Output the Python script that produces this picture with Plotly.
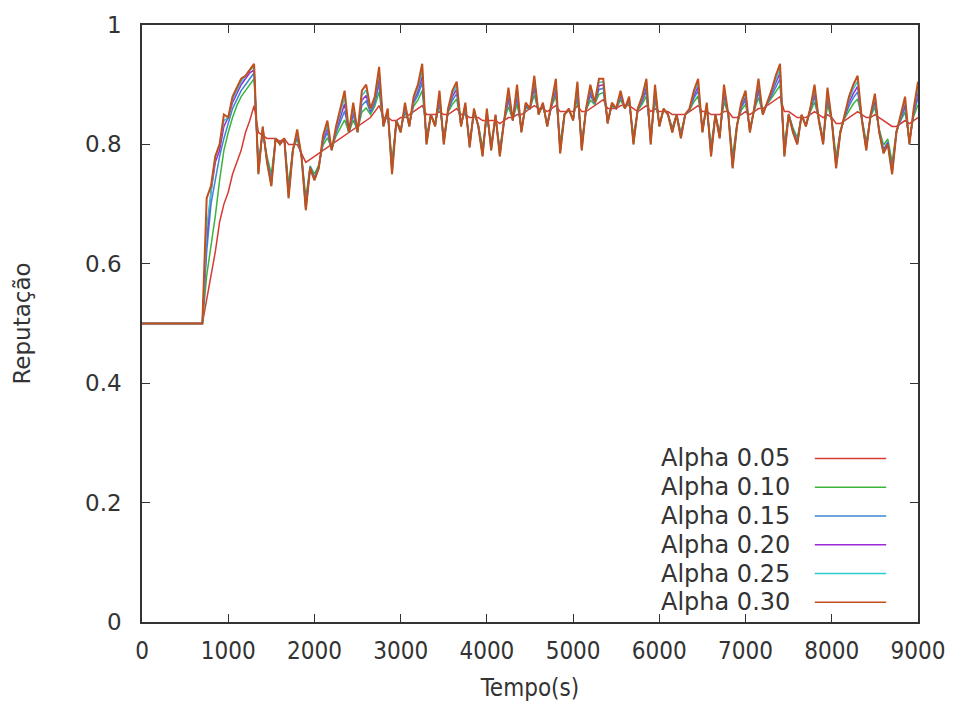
import plotly.graph_objects as go

# Simulation time (s): flat start, then one sample every 50 s
tempo = [0] + list(range(700, 9001, 50))

rep_005 = [0.50, 0.50, 0.54, 0.58, 0.62, 0.67, 0.70, 0.72, 0.75, 0.77,
           0.79, 0.82, 0.84, 0.865, 0.82, 0.815, 0.81, 0.81, 0.81, 0.805,
           0.81, 0.80, 0.80, 0.80, 0.785, 0.77, 0.775, 0.78, 0.785, 0.79,
           0.795, 0.80, 0.805, 0.81, 0.815, 0.82, 0.825, 0.83, 0.835, 0.84,
           0.845, 0.855, 0.865, 0.845, 0.845, 0.84, 0.84, 0.845, 0.845, 0.85,
           0.855, 0.86, 0.865, 0.85, 0.85, 0.85, 0.855, 0.85, 0.85, 0.855,
           0.86, 0.85, 0.85, 0.845, 0.845, 0.845, 0.84, 0.84, 0.84, 0.84,
           0.835, 0.84, 0.845, 0.845, 0.85, 0.85, 0.855, 0.86, 0.865, 0.86,
           0.86, 0.855, 0.86, 0.865, 0.855, 0.855, 0.855, 0.855, 0.865, 0.855,
           0.855, 0.86, 0.865, 0.87, 0.875, 0.86, 0.86, 0.86, 0.865, 0.865,
           0.865, 0.86, 0.855, 0.86, 0.865, 0.855, 0.86, 0.855, 0.855, 0.855,
           0.85, 0.85, 0.85, 0.85, 0.855, 0.86, 0.865, 0.855, 0.855, 0.85,
           0.85, 0.85, 0.855, 0.855, 0.845, 0.845, 0.85, 0.855, 0.85, 0.855,
           0.86, 0.86, 0.865, 0.87, 0.875, 0.88, 0.855, 0.855, 0.85, 0.845,
           0.845, 0.845, 0.85, 0.855, 0.85, 0.845, 0.85, 0.845, 0.835, 0.835,
           0.84, 0.845, 0.85, 0.855, 0.85, 0.845, 0.845, 0.85, 0.845, 0.84,
           0.835, 0.83, 0.83, 0.835, 0.84, 0.835, 0.84, 0.845]

rep_010 = [0.50, 0.50, 0.58, 0.63, 0.68, 0.74, 0.79, 0.82, 0.845, 0.865,
           0.88, 0.89, 0.90, 0.91, 0.768, 0.820, 0.78, 0.75, 0.81, 0.801,
           0.81, 0.733, 0.793, 0.809, 0.781, 0.71, 0.764, 0.75, 0.766, 0.799,
           0.811, 0.793, 0.814, 0.828, 0.841, 0.82, 0.841, 0.823, 0.854, 0.861,
           0.850, 0.864, 0.888, 0.834, 0.850, 0.773, 0.84, 0.826, 0.854, 0.835,
           0.864, 0.874, 0.890, 0.813, 0.85, 0.835, 0.867, 0.813, 0.854, 0.867,
           0.876, 0.835, 0.857, 0.808, 0.850, 0.834, 0.795, 0.847, 0.803, 0.844,
           0.794, 0.84, 0.863, 0.841, 0.868, 0.828, 0.860, 0.86, 0.883, 0.853,
           0.864, 0.836, 0.864, 0.881, 0.803, 0.851, 0.857, 0.844, 0.879, 0.806,
           0.857, 0.874, 0.867, 0.884, 0.887, 0.841, 0.864, 0.86, 0.874, 0.861,
           0.870, 0.815, 0.857, 0.867, 0.881, 0.814, 0.874, 0.836, 0.857, 0.851,
           0.828, 0.85, 0.82, 0.85, 0.857, 0.871, 0.881, 0.829, 0.860, 0.798,
           0.85, 0.82, 0.871, 0.851, 0.781, 0.834, 0.857, 0.867, 0.828, 0.857,
           0.878, 0.853, 0.867, 0.877, 0.889, 0.899, 0.799, 0.851, 0.828, 0.811,
           0.847, 0.834, 0.854, 0.871, 0.843, 0.811, 0.866, 0.841, 0.779, 0.824,
           0.844, 0.857, 0.868, 0.876, 0.843, 0.804, 0.847, 0.862, 0.826, 0.799,
           0.809, 0.77, 0.823, 0.840, 0.854, 0.809, 0.847, 0.866]

rep_015 = [0.50, 0.50, 0.62, 0.70, 0.74, 0.78, 0.81, 0.835, 0.86, 0.875,
           0.89, 0.90, 0.91, 0.92, 0.758, 0.823, 0.775, 0.74, 0.81, 0.801,
           0.81, 0.721, 0.791, 0.814, 0.781, 0.70, 0.762, 0.745, 0.763, 0.804,
           0.820, 0.791, 0.819, 0.838, 0.856, 0.82, 0.850, 0.821, 0.865, 0.873,
           0.853, 0.869, 0.901, 0.832, 0.853, 0.761, 0.84, 0.823, 0.859, 0.832,
           0.869, 0.882, 0.904, 0.806, 0.85, 0.832, 0.874, 0.806, 0.856, 0.874,
           0.885, 0.832, 0.861, 0.801, 0.853, 0.832, 0.787, 0.851, 0.796, 0.846,
           0.787, 0.84, 0.873, 0.841, 0.878, 0.824, 0.863, 0.86, 0.893, 0.851,
           0.866, 0.833, 0.866, 0.890, 0.793, 0.851, 0.858, 0.842, 0.887, 0.798,
           0.858, 0.882, 0.868, 0.892, 0.894, 0.838, 0.866, 0.86, 0.879, 0.861,
           0.873, 0.807, 0.858, 0.871, 0.890, 0.807, 0.882, 0.833, 0.858, 0.851,
           0.824, 0.85, 0.815, 0.85, 0.858, 0.877, 0.890, 0.824, 0.863, 0.788,
           0.85, 0.815, 0.880, 0.851, 0.770, 0.832, 0.861, 0.874, 0.824, 0.858,
           0.888, 0.851, 0.868, 0.881, 0.897, 0.910, 0.789, 0.851, 0.824, 0.805,
           0.848, 0.832, 0.856, 0.880, 0.841, 0.805, 0.875, 0.841, 0.769, 0.822,
           0.846, 0.864, 0.878, 0.888, 0.841, 0.797, 0.848, 0.869, 0.823, 0.792,
           0.804, 0.76, 0.821, 0.843, 0.862, 0.804, 0.851, 0.878]

rep_020 = [0.50, 0.50, 0.64, 0.72, 0.77, 0.79, 0.83, 0.845, 0.87, 0.885,
           0.90, 0.91, 0.92, 0.925, 0.754, 0.826, 0.772, 0.734, 0.81, 0.80,
           0.81, 0.715, 0.791, 0.818, 0.78, 0.694, 0.761, 0.742, 0.761, 0.808,
           0.827, 0.791, 0.823, 0.845, 0.868, 0.82, 0.857, 0.821, 0.874, 0.882,
           0.856, 0.873, 0.911, 0.831, 0.856, 0.755, 0.84, 0.821, 0.863, 0.831,
           0.873, 0.888, 0.914, 0.803, 0.85, 0.831, 0.880, 0.803, 0.857, 0.880,
           0.892, 0.831, 0.864, 0.798, 0.856, 0.831, 0.783, 0.854, 0.793, 0.847,
           0.783, 0.84, 0.880, 0.84, 0.885, 0.822, 0.866, 0.86, 0.900, 0.851,
           0.867, 0.831, 0.867, 0.897, 0.789, 0.85, 0.859, 0.841, 0.893, 0.793,
           0.859, 0.888, 0.869, 0.898, 0.900, 0.836, 0.867, 0.86, 0.883, 0.86,
           0.876, 0.803, 0.859, 0.874, 0.897, 0.803, 0.888, 0.831, 0.859, 0.85,
           0.822, 0.85, 0.812, 0.85, 0.859, 0.881, 0.897, 0.822, 0.866, 0.784,
           0.85, 0.812, 0.887, 0.85, 0.764, 0.831, 0.864, 0.880, 0.822, 0.859,
           0.895, 0.851, 0.869, 0.884, 0.903, 0.919, 0.784, 0.85, 0.822, 0.802,
           0.849, 0.831, 0.857, 0.887, 0.841, 0.802, 0.882, 0.84, 0.764, 0.821,
           0.847, 0.870, 0.885, 0.897, 0.841, 0.793, 0.849, 0.875, 0.821, 0.788,
           0.802, 0.754, 0.821, 0.846, 0.868, 0.802, 0.854, 0.887]

rep_025 = [0.50, 0.50, 0.66, 0.72, 0.78, 0.80, 0.84, 0.845, 0.875, 0.89,
           0.905, 0.915, 0.925, 0.93, 0.75, 0.828, 0.77, 0.73, 0.81, 0.80,
           0.81, 0.71, 0.79, 0.821, 0.78, 0.69, 0.76, 0.74, 0.76, 0.811,
           0.833, 0.79, 0.826, 0.853, 0.879, 0.82, 0.863, 0.82, 0.882, 0.891,
           0.858, 0.876, 0.920, 0.83, 0.858, 0.75, 0.84, 0.82, 0.866, 0.83,
           0.876, 0.894, 0.925, 0.80, 0.85, 0.83, 0.885, 0.80, 0.859, 0.885,
           0.898, 0.83, 0.867, 0.795, 0.858, 0.83, 0.78, 0.857, 0.79, 0.849,
           0.78, 0.84, 0.888, 0.84, 0.893, 0.82, 0.868, 0.86, 0.908, 0.85,
           0.869, 0.83, 0.869, 0.903, 0.785, 0.85, 0.859, 0.84, 0.899, 0.79,
           0.859, 0.894, 0.869, 0.904, 0.905, 0.835, 0.869, 0.86, 0.886, 0.86,
           0.878, 0.80, 0.859, 0.877, 0.903, 0.80, 0.894, 0.83, 0.859, 0.85,
           0.82, 0.85, 0.81, 0.85, 0.859, 0.886, 0.903, 0.82, 0.868, 0.78,
           0.85, 0.81, 0.893, 0.85, 0.76, 0.83, 0.867, 0.885, 0.82, 0.859,
           0.903, 0.85, 0.869, 0.887, 0.909, 0.927, 0.78, 0.85, 0.82, 0.80,
           0.849, 0.83, 0.859, 0.893, 0.84, 0.80, 0.888, 0.84, 0.76, 0.82,
           0.849, 0.875, 0.893, 0.906, 0.84, 0.79, 0.849, 0.880, 0.82, 0.785,
           0.80, 0.75, 0.82, 0.848, 0.874, 0.80, 0.857, 0.896]

rep_030 = [0.50, 0.50, 0.71, 0.73, 0.78, 0.80, 0.85, 0.845, 0.88, 0.895,
           0.91, 0.915, 0.925, 0.935, 0.75, 0.83, 0.77, 0.73, 0.81, 0.80,
           0.81, 0.71, 0.79, 0.825, 0.78, 0.69, 0.76, 0.74, 0.76, 0.815,
           0.84, 0.79, 0.83, 0.86, 0.89, 0.82, 0.87, 0.82, 0.89, 0.90,
           0.86, 0.88, 0.93, 0.83, 0.86, 0.75, 0.84, 0.82, 0.87, 0.83,
           0.88, 0.90, 0.935, 0.80, 0.85, 0.83, 0.89, 0.80, 0.86, 0.89,
           0.905, 0.83, 0.87, 0.795, 0.86, 0.83, 0.78, 0.86, 0.79, 0.85,
           0.78, 0.84, 0.895, 0.84, 0.90, 0.82, 0.87, 0.86, 0.915, 0.85,
           0.87, 0.83, 0.87, 0.91, 0.785, 0.85, 0.86, 0.84, 0.905, 0.79,
           0.86, 0.90, 0.87, 0.91, 0.91, 0.835, 0.87, 0.86, 0.89, 0.86,
           0.88, 0.80, 0.86, 0.88, 0.91, 0.80, 0.90, 0.83, 0.86, 0.85,
           0.82, 0.85, 0.81, 0.85, 0.86, 0.89, 0.91, 0.82, 0.87, 0.78,
           0.85, 0.81, 0.90, 0.85, 0.76, 0.83, 0.87, 0.89, 0.82, 0.86,
           0.91, 0.85, 0.87, 0.89, 0.915, 0.935, 0.78, 0.85, 0.82, 0.80,
           0.85, 0.83, 0.86, 0.90, 0.84, 0.80, 0.895, 0.84, 0.76, 0.82,
           0.85, 0.88, 0.90, 0.915, 0.84, 0.79, 0.85, 0.885, 0.82, 0.785,
           0.80, 0.75, 0.82, 0.85, 0.88, 0.80, 0.86, 0.905]

series_names = ["Alpha 0.05", "Alpha 0.10", "Alpha 0.15", "Alpha 0.20", "Alpha 0.25", "Alpha 0.30"]
series_values = [rep_005, rep_010, rep_015, rep_020, rep_025, rep_030]
series_colors = ["#d83a34", "#3cb43c", "#3a86d0", "#9a2ad8", "#2ccccc", "#c0501c"]
series_widths = [1.5, 1.5, 1.5, 1.5, 1.5, 2.0]

x_ticks = [0, 1000, 2000, 3000, 4000, 5000, 6000, 7000, 8000, 9000]
y_ticks = [0, 0.2, 0.4, 0.6, 0.8, 1.0]
y_tick_text = ["0", "0.2", "0.4", "0.6", "0.8", "1"]

FONT = "DejaVu Sans"
NARROW = "DejaVu Sans Condensed, Liberation Sans Narrow, DejaVu Sans"
TEXT_COLOR = "#333333"
AXIS_COLOR = "#333333"

fig = go.Figure()
for name, vals, col, w in zip(series_names, series_values, series_colors, series_widths):
    fig.add_trace(go.Scatter(x=tempo, y=vals, mode="lines", name=name,
                             line=dict(color=col, width=w), showlegend=False))

axis_common = dict(showgrid=False, zeroline=False, showline=True, linecolor=AXIS_COLOR,
                   linewidth=1.5, mirror="ticks", ticks="inside", ticklen=8,
                   tickcolor=AXIS_COLOR, tickwidth=1.3)

fig.update_layout(
    width=957, height=710,
    margin=dict(l=142, r=35, t=20, b=88),
    paper_bgcolor="white", plot_bgcolor="white",
    xaxis=dict(range=[0, 9000], tickvals=x_ticks, ticktext=[str(v) for v in x_ticks],
               tickfont=dict(family=NARROW, size=24, color=TEXT_COLOR),
               ticklabelstandoff=6,
               title=dict(text="Tempo(s)", font=dict(family=NARROW, size=24, color=TEXT_COLOR),
                          standoff=16),
               **axis_common),
    yaxis=dict(range=[0, 1], tickvals=y_ticks, ticktext=y_tick_text,
               tickfont=dict(family=FONT, size=23, color=TEXT_COLOR),
               ticklabelstandoff=14,
               title=dict(text="Reputação", font=dict(family=FONT, size=23, color=TEXT_COLOR),
                          standoff=48),
               **axis_common),
)

# gnuplot-style key: right-aligned labels followed by a short line sample
key_top = 0.274
key_step = 0.0482
for i, (name, col) in enumerate(zip(series_names, series_colors)):
    yk = key_top - i * key_step
    fig.add_annotation(xref="paper", yref="paper", x=0.837, y=yk, text=name,
                       showarrow=False, xanchor="right", yanchor="middle",
                       font=dict(family=FONT, size=24, color=TEXT_COLOR))
    fig.add_shape(type="line", xref="paper", yref="paper", x0=0.867, x1=0.959, y0=yk, y1=yk,
                  line=dict(color=col, width=1.5))

fig.write_html("out.html")
